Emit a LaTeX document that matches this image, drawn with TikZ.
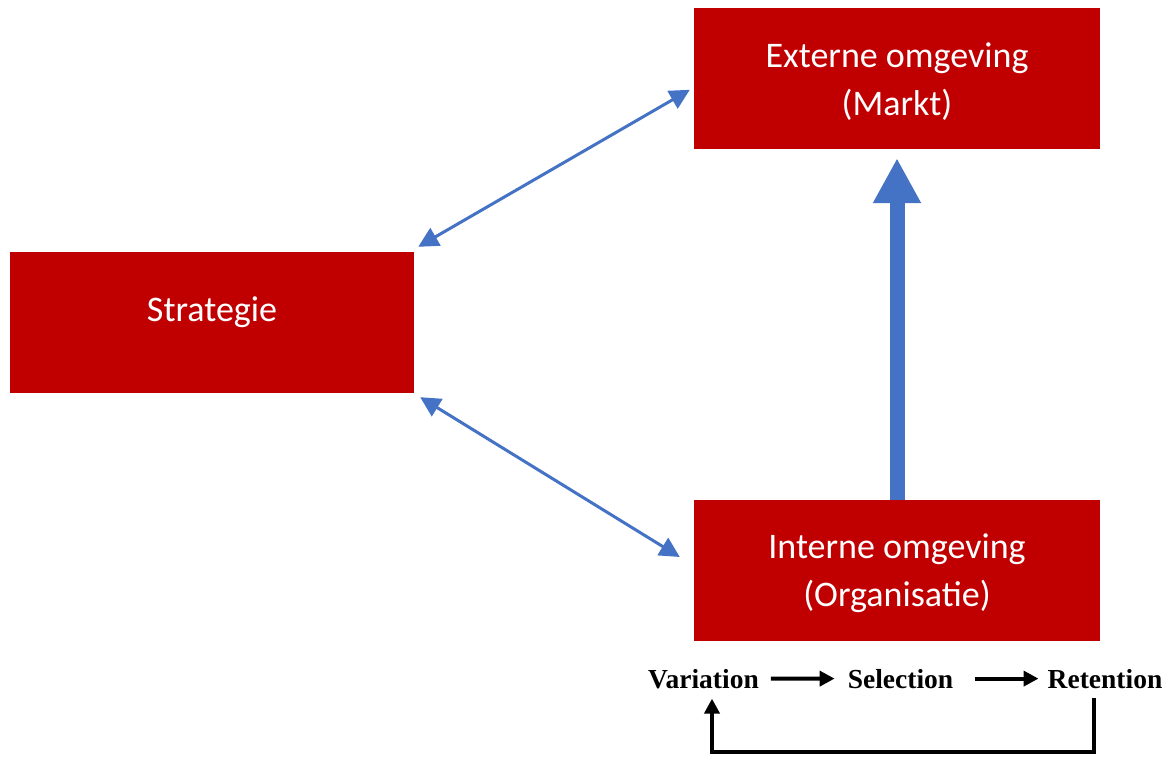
\documentclass[tikz,border=0pt]{standalone}
\usepackage{fontspec}
\setmainfont{Carlito}
\newfontfamily\timesb{Liberation Serif}[BoldFont={Liberation Serif Bold}]
\usetikzlibrary{arrows.meta}
\definecolor{boxred}{HTML}{C00000}
\definecolor{linkblue}{HTML}{4472C4}
\newcommand{\topstrut}{\rule{0pt}{30pt}}
\tikzset{
  redbox/.style={rectangle, fill=boxred, draw=none, inner sep=0pt,
    minimum width=406pt, minimum height=141pt, text=white, align=center,
    font=\fontsize{36}{48}\selectfont},
  thinlink/.style={draw=linkblue, line width=3pt,
    {Triangle[length=20pt,width=20pt]}-{Triangle[length=20pt,width=20pt]}},
  thicklink/.style={draw=linkblue, line width=15pt, -{Triangle[length=45pt,width=45pt]}},
  evo/.style={inner sep=0pt, anchor=base, font=\timesb\bfseries\fontsize{27.5}{32}\selectfont},
  blk/.style={draw=black, line width=4pt, -{Triangle[length=15pt,width=15pt]}}
}
\begin{document}
\begin{tikzpicture}[x=1pt,y=-1pt]
\useasboundingbox (0,0) rectangle (1171,757);
\node[redbox] (ext) at (897,78.5) {\topstrut Externe omgeving\\(Markt)};
\node[redbox, minimum width=404pt, text height=22pt, text depth=24pt] (strat) at (212,322.5) {Strategie};
\node[redbox] (int) at (897,570.5) {\topstrut Interne omgeving\\(Organisatie)};

\coordinate (a1) at ([xshift=4pt,yshift=5pt]strat.north east);
\coordinate (a2) at ([xshift=-4pt,yshift=-82pt]ext.north west);
\coordinate (b1) at ([xshift=6pt,yshift=-4pt]strat.south east);
\coordinate (b2) at ([xshift=-14pt,yshift=13.5pt]int.west);
\draw[thinlink] (a1) -- (a2);
\draw[thinlink] (b1) -- (b2);
\draw[thicklink, shorten >=9pt] (int.north) -- (ext.south);

\node[evo] (var) at (703.5,688) {Variation};
\node[evo] (sel) at (900.5,688) {Selection};
\node[evo] (ret) at (1105,688) {Retention};
\draw[blk, shorten <=12pt, shorten >=13pt] (var.east) -- (sel.west);
\draw[blk, shorten <=22pt, shorten >=9pt] (sel.east) -- (ret.west);
\coordinate (r1) at ([xshift=-11pt,yshift=-10pt]ret.south);
\coordinate (v1) at ([xshift=8.5pt,yshift=-10pt]var.south);
\draw[blk] (r1) -- ++(0,54) -| (v1);
\end{tikzpicture}
\end{document}
